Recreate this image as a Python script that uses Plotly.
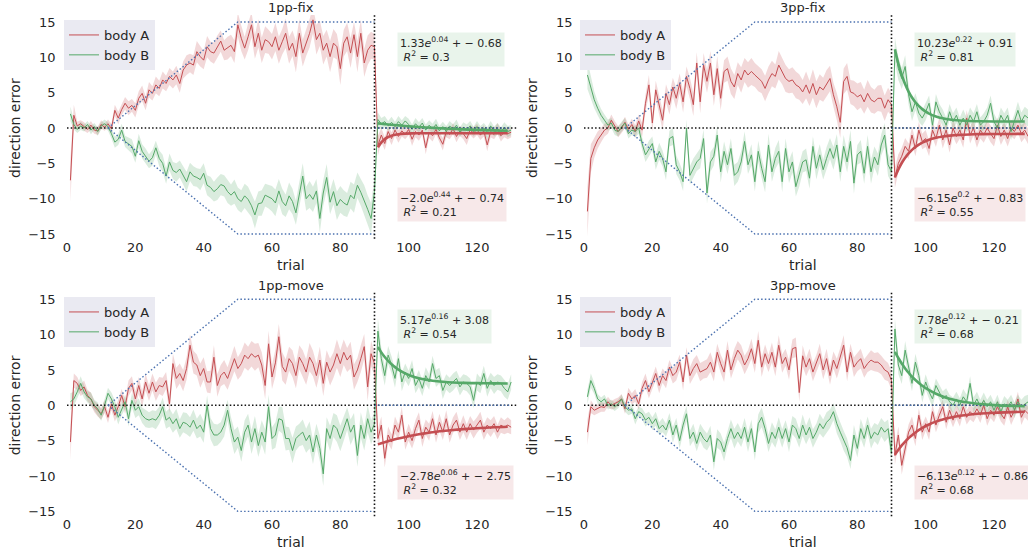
import plotly.graph_objects as go

# ---------------- data ----------------
trials = list(range(1, 131))
fit_trials = [91, 92, 93, 94, 95, 96, 97, 99, 101, 103, 105, 107, 110, 113, 116, 120, 125, 129]
x_ticks = [0, 20, 40, 60, 80, 100, 120]
y_ticks = [-15, -10, -5, 0, 5, 10, 15]
panel_titles = ["1pp-fix", "3pp-fix", "1pp-move", "3pp-move"]
series_names = ["body A", "body B"]

# perturbation profile (dotted blue guide)
ramp_x = [12, 50, 90]
ramp_y = [0, 15, 15]
washout_x = [90, 130]
washout_y = [0, 0]
zero_x = [0, 132]

# fit parameters printed in the boxes
fitA_a = [-2.0, -6.15, -2.78, -6.13]
fitA_b = [0.44, 0.2, 0.06, 0.12]
fitA_c = [-0.74, -0.83, -2.75, -0.86]
r2A = [0.21, 0.55, 0.32, 0.68]
fitB_a = [1.33, 10.23, 5.17, 7.78]
fitB_b = [0.04, 0.22, 0.16, 0.12]
fitB_c = [-0.68, 0.91, 3.08, -0.21]
r2B = [0.3, 0.81, 0.54, 0.68]

# ---- 1pp-fix ----
fix1_A = [-7.4, 1.8, 0.3, 0.6, 0.2, -0.2, 0.4, -0.3, -0.4, 0.5,
          0.1, 0.6, -0.1, 2.5, 1.4, 2.6, 3.5, 2.8, 3.2, 2.5,
          4.2, 4.9, 3.5, 5.4, 4.9, 6.1, 5.6, 6.8, 6.3, 7.3,
          6.8, 7.5, 6.3, 8.2, 8.9, 9.2, 8.9, 10.8, 10.1, 9.6,
          11.5, 10.8, 10.6, 11.5, 12.3, 11.0, 11.3, 11.7, 10.8, 14.6,
          12.7, 11.3, 12.9, 14.6, 11.5, 13.4, 11.0, 12.5, 12.2, 11.5,
          12.9, 11.0, 12.2, 13.4, 11.0, 12.0, 10.1, 13.4, 10.6, 12.0,
          13.4, 15.3, 12.5, 13.4, 11.0, 12.0, 10.1, 12.0, 11.5, 8.4,
          12.0, 12.9, 10.6, 13.2, 10.1, 13.4, 9.2, 11.0, 11.7, 11.5,
          -2.5, -1.0, -2.2, -0.5, -1.5, -0.3, -1.2, -0.4, -0.9, -0.2,
          -1.6, -0.5, -1.0, -0.3, -2.8, -0.6, -1.1, -0.2, -1.4, -2.3,
          -0.5, -0.9, -0.1, -1.2, -0.4, -0.8, -1.5, -0.3, -0.7, -0.2,
          -1.0, -0.4, -2.4, -0.5, -0.9, -0.1, -1.1, -0.6, -0.8, -0.6]
fix1_A_ci = [3.0, 1.5,
             0.6, 0.5, 0.6, 0.5, 0.6, 0.5, 0.6, 0.6, 0.5, 0.6, 0.7,
             0.8, 0.9, 0.8, 0.9, 1.0, 0.9, 1.0, 1.0, 1.1, 1.0, 1.1, 1.0, 1.2, 1.1, 1.2, 1.1, 1.2,
             1.2, 1.3, 1.3, 1.2, 1.4, 1.3, 1.4, 1.5, 1.4, 1.3, 1.5, 1.4, 1.5, 1.6, 1.5, 1.4, 1.6, 1.5, 1.6, 1.7,
             1.8, 1.6, 1.9, 1.8, 1.7, 2.0, 1.8, 1.9, 1.7, 1.8, 2.0, 1.9, 1.8, 2.1, 1.9, 1.8, 2.2, 2.0, 1.9, 1.8,
             2.0, 1.9, 2.1, 1.8, 2.0, 1.9, 2.2, 2.0, 1.8, 2.3, 1.9, 2.0, 2.1, 1.8, 2.2, 1.9, 2.0, 2.1, 1.9, 1.8,
             1.4, 1.0, 0.9, 0.8, 0.9, 0.8, 0.9, 0.8, 0.7, 0.8, 0.9, 0.8, 0.8, 0.7, 0.9, 0.8, 0.8, 0.7, 0.8, 0.9,
             0.8, 0.7, 0.8, 0.8, 0.7, 0.8, 0.9, 0.7, 0.8, 0.8, 0.7, 0.8, 0.9, 0.8, 0.7, 0.8, 0.8, 0.7, 0.8, 0.7]
fix1_B = [2.0, 0.5, -0.2, 0.3, 0.0, 0.5, -0.3, 0.2, -0.5, 0.3,
          0.6, 0.2, -0.8, -2.0, -1.6, -0.3, -1.9, -2.2, -2.6, -4.0,
          -1.8, -3.3, -4.0, -4.7, -4.2, -2.8, -4.3, -5.0, -6.8, -4.8,
          -6.0, -6.3, -5.8, -6.7, -7.6, -6.2, -6.8, -7.0, -7.3, -6.4,
          -8.1, -8.4, -9.0, -8.6, -8.0, -8.2, -9.0, -9.5, -9.0, -10.0,
          -10.4, -9.6, -10.1, -11.0, -12.3, -10.7, -10.6, -9.5, -9.7, -10.0,
          -10.6, -8.9, -10.4, -11.0, -9.6, -10.4, -12.0, -9.4, -6.8, -10.0,
          -9.4, -10.1, -8.9, -12.8, -9.2, -7.0, -10.5, -9.0, -11.0, -10.1,
          -10.6, -10.9, -9.5, -10.0, -8.1, -9.1, -10.2, -11.5, -12.8, -9.0,
          1.2, 0.6, 0.9, 0.3, 0.8, 0.2, 0.9, 0.4, 1.0, 0.5,
          -0.2, 0.6, 0.1, 0.7, -0.3, 0.4, -0.1, 0.5, -0.4, 0.2,
          -0.5, 0.3, -0.2, 0.4, -0.6, 0.1, -0.3, 0.3, -0.5, 0.2,
          -0.4, 0.0, -0.7, 0.3, -0.5, -0.1, -0.6, 0.1, -0.5, -0.3]
fix1_B_ci = [1.0, 0.7,
             0.5, 0.6, 0.5, 0.5, 0.6, 0.5, 0.6, 0.5, 0.6, 0.6, 0.7,
             0.8, 0.8, 0.9, 0.8, 0.9, 1.0, 0.9, 1.0, 1.0, 1.1, 1.0, 1.1, 1.0, 1.1, 1.2, 1.1, 1.2,
             1.2, 1.3, 1.2, 1.3, 1.4, 1.3, 1.4, 1.3, 1.5, 1.4, 1.4, 1.5, 1.4, 1.6, 1.5, 1.5, 1.6, 1.5, 1.7, 1.6,
             1.6, 1.7, 1.8, 1.6, 1.9, 1.7, 1.8, 1.6, 1.7, 1.8, 1.9, 1.7, 1.8, 1.6, 1.9, 1.8, 1.7, 2.0, 1.8, 1.7,
             1.9, 1.8, 1.7, 2.0, 1.8, 1.9, 1.7, 1.8, 2.0, 1.9, 1.8, 1.7, 1.9, 2.0, 1.8, 1.9, 2.1, 2.0, 2.2, 1.9,
             1.0, 0.8, 0.8, 0.7, 0.8, 0.7, 0.8, 0.7, 0.7, 0.8, 0.7, 0.8, 0.7, 0.7, 0.8, 0.7, 0.7, 0.8, 0.7, 0.7,
             0.8, 0.7, 0.7, 0.8, 0.7, 0.7, 0.8, 0.7, 0.7, 0.8, 0.7, 0.7, 0.8, 0.7, 0.7, 0.8, 0.7, 0.7, 0.8, 0.7]
fix1_fitA = [-2.74, -2.03, -1.57, -1.27, -1.08, -0.96, -0.88, -0.80, -0.76, -0.75, -0.74, -0.74, -0.74, -0.74, -0.74, -0.74, -0.74, -0.74]
fix1_fitB = [0.65, 0.60, 0.55, 0.50, 0.45, 0.41, 0.37, 0.29, 0.21, 0.14, 0.08, 0.02, -0.06, -0.13, -0.19, -0.26, -0.34, -0.39]

# ---- 3pp-fix ----
fix3_A = [-11.8, -4.3, -2.8, -1.7, -1.0, -0.3, 0.0, 1.1, 0.3, -0.5,
          0.0, 0.8, -0.2, 0.5, -0.5, 1.0, -0.3, 3.5, 6.1, 0.7,
          5.4, 3.3, 1.1, 4.9, 3.3, 5.8, 4.2, 6.3, 3.7, 7.3,
          5.6, 3.3, 9.2, 3.7, 8.9, 6.6, 9.2, 4.7, 8.4, 4.2,
          8.0, 8.4, 6.6, 5.8, 7.7, 6.8, 8.2, 7.5, 8.0, 7.5,
          7.0, 6.6, 5.6, 6.8, 7.7, 7.3, 8.9, 8.0, 7.0, 6.6,
          6.8, 6.1, 5.8, 5.1, 6.1, 4.9, 6.3, 4.7, 5.8, 5.4,
          6.3, 7.0, 4.7, 3.0, 0.8, 6.6, 7.3, 5.1, 4.9, 4.4,
          4.7, 3.7, 4.9, 4.0, 3.7, 4.2, 4.2, 2.8, 4.0, 3.3,
          -7.0, -5.0, -4.0, -2.6, -3.3, -1.0, -2.9, -0.3, -1.9, -1.5,
          -2.9, -0.3, -1.5, 0.4, -1.7, -0.3, -2.4, 0.0, -1.2, -0.3,
          -1.7, 1.4, -1.0, 0.0, -1.7, -0.3, -1.0, 0.0, -0.8, -1.5,
          0.4, -1.2, -0.3, -1.5, 0.0, -0.5, 0.4, -0.8, -0.3, -1.2]
fix3_A_ci = [3.5, 2.0,
             1.4, 1.2, 1.0, 0.9, 0.8, 0.8, 0.7, 0.8, 0.7, 0.8, 0.7,
             0.8, 0.9, 0.9, 1.0, 1.2, 1.4, 1.2, 1.3, 1.2, 1.4, 1.3, 1.4, 1.3, 1.5, 1.4, 1.5, 1.4,
             1.5, 1.6, 1.5, 1.6, 1.7, 1.6, 1.7, 1.6, 1.8, 1.7, 1.6, 1.7, 1.8, 1.7, 1.6, 1.8, 1.7, 1.8, 1.9, 1.7,
             1.8, 1.7, 1.8, 1.9, 1.8, 1.7, 2.0, 1.8, 1.9, 1.7, 1.8, 1.9, 1.8, 1.7, 1.9, 1.8, 2.0, 1.9, 1.8, 1.7,
             1.9, 1.8, 1.7, 1.9, 2.2, 1.8, 1.9, 1.7, 1.8, 1.9, 1.8, 1.7, 1.9, 1.8, 1.7, 1.8, 1.9, 1.8, 1.7, 1.6,
             1.5, 1.3, 1.2, 1.2, 1.1, 1.2, 1.1, 1.2, 1.1, 1.2, 1.1, 1.1, 1.2, 1.1, 1.2, 1.1, 1.1, 1.2, 1.1, 1.2,
             1.1, 1.1, 1.2, 1.1, 1.1, 1.2, 1.1, 1.1, 1.2, 1.1, 1.1, 1.2, 1.1, 1.1, 1.2, 1.1, 1.1, 1.2, 1.1, 1.1]
fix3_B = [7.5, 5.6, 4.0, 2.8, 1.8, 1.1, 0.4, 0.7, -0.3, -0.5,
          0.2, 0.7, -0.8, -0.3, -0.5, 0.0, -2.2, -3.8, -2.9, -2.2,
          -4.8, -3.3, -4.3, -6.2, -1.5, -1.2, -5.2, -6.2, -7.6, 0.0,
          -6.7, -5.7, -4.8, -4.3, -1.5, -9.2, -4.8, -4.0, -1.0, -6.2,
          -3.3, -5.2, -2.9, -6.7, -6.2, -4.8, -1.9, -5.2, -3.8, -7.6,
          -3.3, -5.7, -7.6, -2.4, -6.2, -4.3, -3.3, -7.6, -2.9, -6.2,
          -4.8, -8.3, -6.7, -4.8, -4.5, -7.1, -2.6, -5.7, -3.8, -5.9,
          -4.3, -2.9, -4.3, -2.4, -6.2, -2.6, -4.8, -1.9, -7.8, -3.8,
          -3.3, -6.4, -2.6, -6.2, -4.1, -5.2, -2.4, -1.0, -5.2, -6.2,
          11.0, 8.4, 7.0, 8.7, 4.7, 2.3, 3.7, 2.1, 1.4, 2.3,
          3.5, 0.4, 3.7, 2.3, 1.4, 0.4, 2.3, 0.9, 1.8, 0.4,
          1.4, 0.4, 1.8, 0.9, 2.3, 0.4, 0.9, 1.8, 3.5, 0.9,
          0.0, 1.8, 0.9, 1.8, -0.5, 0.9, 2.5, 0.9, 1.8, 1.4]
fix3_B_ci = [2.0, 1.5,
             1.2, 1.0, 0.9, 0.8, 0.8, 0.7, 0.7, 0.7, 0.7, 0.7, 0.7,
             0.7, 0.8, 0.8, 0.9, 1.0, 1.1, 1.0, 1.1, 1.2, 1.1, 1.2, 1.1, 1.2, 1.3, 1.2, 1.3, 1.2,
             1.3, 1.4, 1.3, 1.4, 1.3, 1.5, 1.4, 1.3, 1.4, 1.5, 1.4, 1.3, 1.4, 1.5, 1.4, 1.5, 1.4, 1.3, 1.5, 1.4,
             1.5, 1.4, 1.5, 1.6, 1.4, 1.5, 1.6, 1.5, 1.4, 1.6, 1.5, 1.4, 1.6, 1.5, 1.6, 1.5, 1.4, 1.6, 1.5, 1.4,
             1.6, 1.5, 1.6, 1.5, 1.4, 1.6, 1.5, 1.6, 1.5, 1.4, 1.6, 1.5, 1.6, 1.7, 1.5, 1.6, 1.5, 1.7, 1.6, 1.5,
             1.8, 1.6, 1.5, 1.6, 1.4, 1.3, 1.2, 1.2, 1.1, 1.2, 1.1, 1.2, 1.1, 1.1, 1.2, 1.1, 1.1, 1.2, 1.1, 1.1,
             1.2, 1.1, 1.1, 1.2, 1.1, 1.1, 1.2, 1.1, 1.1, 1.2, 1.1, 1.1, 1.2, 1.1, 1.2, 1.1, 1.2, 1.3, 1.2, 1.2]
fix3_fitA = [-6.98, -5.87, -4.95, -4.21, -3.59, -3.09, -2.68, -2.07, -1.66, -1.39, -1.20, -1.08, -0.97, -0.91, -0.87, -0.85, -0.84, -0.83]
fix3_fitB = [11.14, 9.12, 7.50, 6.20, 5.15, 4.31, 3.64, 2.67, 2.04, 1.64, 1.38, 1.21, 1.07, 0.99, 0.95, 0.93, 0.91, 0.91]

# ---- 1pp-move ----
move1_A = [-5.2, 3.5, 3.1, 2.1, 2.6, 1.4, 0.9, -0.2, -0.7, -1.2,
           -0.2, -1.7, 0.2, -1.4, -0.2, 1.4, -0.2, 2.4, 3.1, 0.9,
           2.8, 0.9, 3.3, 1.7, 3.3, 1.9, 2.8, 2.6, 3.5, 0.2,
           5.9, 3.8, 4.5, 3.5, 5.2, 8.5, 6.1, 5.7, 4.2, 5.2,
           3.3, 3.3, 6.8, 2.8, 4.2, 4.7, 3.8, 5.2, 6.6, 5.2,
           5.9, 7.1, 6.6, 7.3, 6.8, 7.1, 5.7, 2.8, 8.7, 4.0,
           6.0, 9.7, 5.5, 4.7, 6.6, 5.9, 4.2, 6.8, 5.9, 4.7,
           6.8, 5.9, 4.2, 6.4, 3.1, 6.1, 4.7, 5.7, 7.3, 5.9,
           7.5, 6.4, 7.1, 4.0, 5.0, 6.6, 8.3, 2.6, 7.3, 5.9,
           -4.7, -2.8, -7.5, -4.2, -5.2, -2.8, -3.8, -1.4, -5.2, -3.8,
           -5.0, -3.3, -2.1, -4.7, -3.1, -3.8, -1.9, -4.2, -2.4, -3.8,
           -1.9, -4.2, -2.8, -2.1, -3.8, -2.6, -3.8, -2.6, -3.5, -2.8,
           -2.1, -3.8, -2.8, -3.3, -2.6, -3.8, -2.8, -3.1, -2.8, -3.1]
move1_A_ci = [2.5, 1.0,
              0.9, 0.8, 0.9, 0.8, 0.9, 0.8, 0.9, 0.8, 0.9, 0.8, 0.9,
              0.9, 1.0, 0.9, 1.0, 1.1, 1.0, 1.1, 1.2, 1.1, 1.2, 1.1, 1.2, 1.3, 1.2, 1.3, 1.2, 1.3,
              1.4, 1.5, 1.4, 1.5, 1.6, 1.5, 1.6, 1.5, 1.7, 1.6, 1.5, 1.6, 1.7, 1.6, 1.5, 1.7, 1.6, 1.7, 1.8, 1.6,
              1.7, 1.8, 1.7, 1.8, 1.9, 1.7, 1.8, 1.9, 1.8, 1.7, 1.9, 1.8, 2.0, 1.8, 1.7, 1.9, 1.8, 1.7, 1.9, 1.8,
              2.0, 1.8, 1.7, 1.9, 1.8, 1.7, 1.9, 1.8, 2.0, 1.9, 1.8, 1.7, 1.9, 1.8, 1.7, 1.9, 1.8, 2.0, 1.8, 1.7,
              1.3, 1.2, 1.3, 1.2, 1.1, 1.2, 1.1, 1.2, 1.1, 1.2, 1.1, 1.2, 1.1, 1.2, 1.1, 1.2, 1.1, 1.1, 1.2, 1.1,
              1.2, 1.1, 1.1, 1.2, 1.1, 1.2, 1.1, 1.1, 1.2, 1.1, 1.2, 1.1, 1.1, 1.2, 1.1, 1.0, 1.1, 1.0, 1.1, 1.0]
move1_B = [0.5, 0.9, 1.9, 3.1, 1.9, 1.2, 0.9, 0.0, -0.5, -1.4,
           0.0, 1.7, 0.9, -0.2, -1.7, -0.5, 0.5, -1.9, 0.7, -0.7,
           -0.2, -1.4, -1.9, -2.1, -1.9, -2.1, -1.4, -0.2, -2.1, -1.7,
           -2.6, -1.9, -3.3, -2.4, -2.6, -3.1, -2.1, -3.3, -2.8, -3.8,
           0.0, -3.3, -4.2, -4.2, -3.8, -2.8, -0.7, -3.3, -5.2, -4.5,
           -6.4, -3.8, -2.8, -5.2, -3.3, -5.7, -3.8, -5.2, -0.2, -4.7,
           -4.2, -1.9, -2.1, -4.7, -4.7, -6.4, -4.7, -4.2, -3.8, -5.0,
           -4.2, -6.6, -4.2, -6.1, -9.7, -3.3, -4.7, -2.8, -3.3, -4.7,
           -3.3, -1.9, -3.8, -2.8, -7.1, -2.8, -4.7, -1.9, -3.8, -2.6,
           10.5, 6.6, 4.2, 7.1, 5.7, 3.8, 6.6, 3.3, 4.7, 3.8,
           5.2, 2.8, 3.8, 2.4, 4.2, 3.3, 5.9, 3.8, 4.2, 2.1,
           3.3, 2.8, 3.3, 3.8, 2.6, 3.3, 3.1, 2.6, 0.7, 3.3,
           2.8, 4.5, 2.4, 3.5, 2.8, 3.3, 3.1, 2.4, 1.9, 3.3]
move1_B_ci = [1.2, 1.0,
              0.9, 1.0, 0.9, 0.8, 0.9, 0.8, 0.9, 0.8, 0.9, 0.8, 0.9,
              0.9, 1.0, 0.9, 1.0, 1.1, 1.0, 1.1, 1.2, 1.1, 1.2, 1.1, 1.2, 1.3, 1.2, 1.3, 1.2, 1.3,
              1.3, 1.4, 1.3, 1.4, 1.5, 1.4, 1.5, 1.4, 1.6, 1.5, 1.4, 1.5, 1.6, 1.5, 1.4, 1.6, 1.5, 1.6, 1.7, 1.5,
              1.6, 1.7, 1.6, 1.7, 1.8, 1.6, 1.7, 1.8, 1.7, 1.6, 1.8, 1.7, 1.9, 1.7, 1.6, 1.8, 1.7, 1.6, 1.8, 1.7,
              1.9, 1.7, 1.6, 1.8, 1.7, 1.6, 1.8, 1.7, 1.9, 1.8, 1.7, 1.6, 1.8, 1.7, 1.6, 1.8, 1.7, 1.9, 1.7, 1.6,
              1.8, 1.5, 1.4, 1.3, 1.2, 1.3, 1.2, 1.3, 1.2, 1.1, 1.2, 1.1, 1.2, 1.1, 1.2, 1.1, 1.1, 1.2, 1.1, 1.2,
              1.1, 1.1, 1.2, 1.1, 1.2, 1.1, 1.1, 1.2, 1.1, 1.2, 1.1, 1.1, 1.2, 1.1, 1.2, 1.1, 1.1, 1.2, 1.1, 1.1]
move1_fitA = [-5.53, -5.37, -5.22, -5.07, -4.94, -4.81, -4.69, -4.47, -4.28, -4.10, -3.95, -3.81, -3.64, -3.49, -3.37, -3.24, -3.11, -3.03]
move1_fitB = [8.25, 7.49, 6.83, 6.28, 5.81, 5.40, 5.06, 4.52, 4.12, 3.84, 3.63, 3.48, 3.33, 3.23, 3.17, 3.13, 3.10, 3.09]

# ---- 3pp-move ----
move3_A = [-3.8, -0.2, -0.7, -0.5, -0.2, -0.3, 0.5, 0.0, 0.2, 0.5,
           0.9, -0.5, 1.7, 0.9, 1.4, 0.2, 2.4, 3.5, 1.9, 3.3,
           4.5, 2.8, 4.2, 3.5, 5.4, 4.2, 4.7, 6.1, 3.3, 7.1,
           4.2, 5.2, 5.9, 4.7, 5.0, 5.2, 6.1, 4.7, 7.5, 5.9,
           4.7, 7.8, 5.0, 6.6, 7.8, 7.1, 5.7, 6.6, 8.0, 5.9,
           9.2, 5.4, 7.3, 5.9, 7.5, 5.4, 8.5, 5.9, 6.8, 5.0,
           8.0, 8.2, 1.8, 7.0, 5.4, 6.6, 4.7, 5.9, 7.3, 5.0,
           6.6, 4.2, 6.4, 5.2, 6.8, 8.5, 4.7, 7.5, 5.4, 6.1,
           6.6, 5.2, 5.9, 6.4, 6.1, 6.1, 5.7, 5.0, 4.7, 3.5,
           -7.1, -4.2, -8.5, -6.1, -3.8, -2.8, -4.7, -1.4, -3.8, -2.6,
           -3.8, -0.9, -2.8, -1.4, -0.2, -2.4, -0.7, -2.1, -0.9, -1.9,
           -0.2, -1.7, -0.9, -1.4, -0.5, -1.4, 0.0, -1.9, -0.7, -1.4,
           -0.2, -1.2, -1.9, -0.2, -1.7, -0.7, 0.9, -1.7, -0.7, -1.2]
move3_A_ci = [1.8, 0.9,
              0.7, 0.6, 0.7, 0.6, 0.7, 0.6, 0.7, 0.6, 0.7, 0.7, 0.8,
              0.8, 0.9, 0.8, 0.9, 1.0, 0.9, 1.0, 1.0, 1.1, 1.0, 1.1, 1.0, 1.1, 1.2, 1.1, 1.2, 1.1,
              1.2, 1.3, 1.2, 1.3, 1.2, 1.3, 1.4, 1.3, 1.2, 1.3, 1.4, 1.3, 1.2, 1.4, 1.3, 1.4, 1.3, 1.2, 1.4, 1.3,
              1.3, 1.4, 1.3, 1.2, 1.4, 1.3, 1.4, 1.3, 1.2, 1.4, 1.3, 1.4, 1.3, 1.5, 1.3, 1.4, 1.3, 1.2, 1.4, 1.3,
              1.4, 1.3, 1.2, 1.4, 1.3, 1.4, 1.3, 1.2, 1.4, 1.3, 1.4, 1.3, 1.2, 1.4, 1.3, 1.4, 1.3, 1.4, 1.3, 1.3,
              1.3, 1.2, 1.3, 1.2, 1.1, 1.2, 1.1, 1.0, 1.1, 1.0, 1.1, 1.0, 1.0, 1.1, 1.0, 1.0, 1.1, 1.0, 1.0, 1.1,
              1.0, 1.0, 1.1, 1.0, 1.0, 1.1, 1.0, 1.0, 1.1, 1.0, 1.0, 1.1, 1.0, 1.0, 1.1, 1.0, 1.0, 1.1, 1.0, 1.0]
move3_B = [1.2, 3.5, 2.4, 0.9, 0.5, 0.9, 0.0, 0.2, -0.2, 0.2,
           0.9, -0.2, -0.7, -0.5, -1.9, -0.9, -1.2, -2.1, -1.7, -2.6,
           -1.9, -3.3, -2.8, -3.5, -2.1, -4.2, -2.8, -5.0, -2.8, -1.2,
           -4.7, -3.8, -5.4, -3.8, -4.7, -5.2, -4.2, -8.0, -4.7, -5.2,
           -6.6, -4.7, -3.3, -4.7, -3.8, -4.7, -3.1, -5.2, -3.3, -6.6,
           -2.6, -1.7, -3.3, -5.4, -3.8, -4.7, -3.1, -4.7, -3.3, -5.2,
           -2.8, -3.3, -4.7, -2.8, -4.2, -3.1, -4.7, -3.8, -2.6, -3.3,
           -2.4, -1.9, -0.9, -2.6, -3.8, -5.0, -6.0, -7.8, -4.2, -6.1,
           -3.3, -4.7, -2.8, -4.7, -3.8, -4.2, -3.1, -3.8, -3.3, -6.8,
           10.8, 5.7, 4.2, 7.8, 5.2, 3.1, 6.1, 4.2, 1.4, 3.3,
           1.9, 0.9, 2.8, 1.9, 0.9, 1.4, 0.5, 0.0, 0.9, 0.0,
           1.2, 0.5, 3.1, 0.0, 0.9, -0.2, 0.7, -0.2, 0.5, -0.7,
           0.5, -0.9, 0.2, -0.2, 0.5, -0.7, 0.5, -0.2, 0.2, 0.5]
move3_B_ci = [1.0, 1.0,
              0.8, 0.7, 0.6, 0.6, 0.6, 0.6, 0.6, 0.6, 0.6, 0.7, 0.7,
              0.7, 0.8, 0.7, 0.8, 0.9, 0.8, 0.9, 1.0, 0.9, 1.0, 0.9, 1.0, 1.1, 1.0, 1.1, 1.2, 1.1,
              1.1, 1.2, 1.1, 1.2, 1.3, 1.2, 1.3, 1.2, 1.3, 1.2, 1.3, 1.2, 1.3, 1.4, 1.3, 1.2, 1.3, 1.4, 1.3, 1.2,
              1.3, 1.4, 1.3, 1.2, 1.4, 1.3, 1.4, 1.3, 1.2, 1.4, 1.3, 1.4, 1.3, 1.5, 1.3, 1.4, 1.3, 1.2, 1.4, 1.3,
              1.4, 1.3, 1.2, 1.4, 1.3, 1.4, 1.3, 1.2, 1.4, 1.3, 1.4, 1.3, 1.2, 1.4, 1.3, 1.4, 1.3, 1.4, 1.3, 1.3,
              1.5, 1.3, 1.2, 1.3, 1.2, 1.1, 1.2, 1.1, 1.0, 1.1, 1.0, 1.1, 1.0, 1.0, 1.1, 1.0, 1.0, 1.1, 1.0, 1.0,
              1.1, 1.0, 1.0, 1.1, 1.0, 1.0, 1.1, 1.0, 1.0, 1.1, 1.0, 1.0, 1.1, 1.0, 1.0, 1.1, 1.0, 1.0, 1.1, 1.0]
move3_fitA = [-6.99, -6.30, -5.68, -5.14, -4.65, -4.23, -3.85, -3.21, -2.71, -2.31, -2.00, -1.76, -1.49, -1.30, -1.17, -1.05, -0.96, -0.92]
move3_fitB = [7.57, 6.69, 5.91, 5.22, 4.60, 4.06, 3.58, 2.77, 2.13, 1.63, 1.24, 0.93, 0.58, 0.35, 0.18, 0.03, -0.08, -0.13]

panels_A = [fix1_A, fix3_A, move1_A, move3_A]
panels_A_ci = [fix1_A_ci, fix3_A_ci, move1_A_ci, move3_A_ci]
panels_B = [fix1_B, fix3_B, move1_B, move3_B]
panels_B_ci = [fix1_B_ci, fix3_B_ci, move1_B_ci, move3_B_ci]
panels_fitA = [fix1_fitA, fix3_fitA, move1_fitA, move3_fitA]
panels_fitB = [fix1_fitB, fix3_fitB, move1_fitB, move3_fitB]

# ---------------- style ----------------
W, H = 1028, 554
FONT = "DejaVu Sans"
TXT = "#262626"
RED = "#C44E52"
GREEN = "#55A868"
BLUE = "#4C72B0"
RED_FILL = "rgba(196,78,82,0.22)"
GREEN_FILL = "rgba(85,168,104,0.22)"
RED_BOX = "rgba(196,78,82,0.13)"
GREEN_BOX = "rgba(85,168,104,0.13)"
DOT = "1.5px,2.2px"


def fx(px):
    return px / W


def fy(py):
    return 1 - py / H


x_left_dom = [fx(60.17), fx(521.4)]
x_right_dom = [fx(577.17), 1.0]
x_left_rng = [-2, 133]
x_right_rng = [-2, 129.95]
y_top_dom = [fy(241.1), fy(14.9)]
y_bot_dom = [fy(518.4), fy(292.2)]
y_rng = [-16, 16]

axes_cfg = [
    (x_left_dom, x_left_rng, y_top_dom, 14.9, 241.1),
    (x_right_dom, x_right_rng, y_top_dom, 14.9, 241.1),
    (x_left_dom, x_left_rng, y_bot_dom, 292.2, 518.4),
    (x_right_dom, x_right_rng, y_bot_dom, 292.2, 518.4),
]
x_centres = [290.8, 802.6, 290.8, 802.6]


def minus(s):
    return s.replace("-", "\u2212")


def fit_label(a, b, c, r2):
    sign = "+ " + str(c) if c >= 0 else "+ \u2212 " + str(abs(c))
    return (minus(str(a)) + "<i>e</i><sup>" + str(b) + "</sup> " + sign +
            "<br> <i>R</i><sup>2</sup> = " + str(r2))


fig = go.Figure()
layout = dict(
    width=W, height=H, margin=dict(l=0, r=0, t=0, b=0),
    paper_bgcolor="white", plot_bgcolor="white",
    font=dict(family=FONT, size=13, color=TXT),
    showlegend=True,
)
annotations = []
shapes = []

for i in range(4):
    xa = "x" if i == 0 else f"x{i+1}"
    ya = "y" if i == 0 else f"y{i+1}"
    xkey = "xaxis" if i == 0 else f"xaxis{i+1}"
    ykey = "yaxis" if i == 0 else f"yaxis{i+1}"
    lg = "legend" if i == 0 else f"legend{i+1}"
    xdom, xrng, ydom, top_px, bot_px = axes_cfg[i]

    layout[xkey] = dict(domain=xdom, range=xrng, anchor=ya, tickvals=x_ticks,
                        showgrid=False, zeroline=False, showline=False,
                        ticks="", ticklabelstandoff=-3,
                        tickfont=dict(size=13, color=TXT, family=FONT))
    layout[ykey] = dict(domain=ydom, range=y_rng, anchor=xa, tickvals=y_ticks,
                        showgrid=False, zeroline=False, showline=False,
                        ticks="outside", ticklen=1, tickcolor="rgba(0,0,0,0)",
                        tickfont=dict(size=13, color=TXT, family=FONT))

    A, Aci = panels_A[i], panels_A_ci[i]
    B, Bci = panels_B[i], panels_B_ci[i]
    # confidence bands
    for vals, ci, fillc in ((A, Aci, RED_FILL), (B, Bci, GREEN_FILL)):
        up = [v + c for v, c in zip(vals, ci)]
        lo = [v - c for v, c in zip(vals, ci)]
        fig.add_trace(go.Scatter(x=trials, y=up, mode="lines", line=dict(width=0),
                                 hoverinfo="skip", showlegend=False, xaxis=xa, yaxis=ya))
        fig.add_trace(go.Scatter(x=trials, y=lo, mode="lines", line=dict(width=0),
                                 fill="tonexty", fillcolor=fillc, hoverinfo="skip",
                                 showlegend=False, xaxis=xa, yaxis=ya))
    # mean lines
    fig.add_trace(go.Scatter(x=trials, y=A, mode="lines", name=series_names[0],
                             line=dict(color=RED, width=1), legend=lg, xaxis=xa, yaxis=ya))
    fig.add_trace(go.Scatter(x=trials, y=B, mode="lines", name=series_names[1],
                             line=dict(color=GREEN, width=1), legend=lg, xaxis=xa, yaxis=ya))
    # guides
    fig.add_trace(go.Scatter(x=zero_x, y=[0, 0], mode="lines", showlegend=False,
                             line=dict(color="#111111", width=1.6, dash=DOT),
                             hoverinfo="skip", xaxis=xa, yaxis=ya))
    fig.add_trace(go.Scatter(x=ramp_x, y=ramp_y, mode="lines", showlegend=False,
                             line=dict(color=BLUE, width=1.4, dash=DOT),
                             hoverinfo="skip", xaxis=xa, yaxis=ya))
    fig.add_trace(go.Scatter(x=ramp_x, y=[-v for v in ramp_y], mode="lines", showlegend=False,
                             line=dict(color=BLUE, width=1.4, dash=DOT),
                             hoverinfo="skip", xaxis=xa, yaxis=ya))
    fig.add_trace(go.Scatter(x=washout_x, y=washout_y, mode="lines", showlegend=False,
                             line=dict(color=BLUE, width=1.4, dash=DOT),
                             hoverinfo="skip", xaxis=xa, yaxis=ya))
    shapes.append(dict(type="line", xref=xa, yref=f"{ya} domain", x0=90, x1=90, y0=0.01, y1=1.0,
                       line=dict(color="#111111", width=1.6, dash=DOT)))
    # fitted curves
    fig.add_trace(go.Scatter(x=fit_trials, y=panels_fitA[i], mode="lines", showlegend=False,
                             line=dict(color=RED, width=2.6, shape="spline"),
                             hoverinfo="skip", xaxis=xa, yaxis=ya))
    fig.add_trace(go.Scatter(x=fit_trials, y=panels_fitB[i], mode="lines", showlegend=False,
                             line=dict(color=GREEN, width=2.6, shape="spline"),
                             hoverinfo="skip", xaxis=xa, yaxis=ya))

    # fit boxes
    annotations.append(dict(xref=xa, yref=ya, x=96.6, y=13.6, xanchor="left", yanchor="top",
                            text=fit_label(fitB_a[i], fitB_b[i], fitB_c[i], r2B[i]),
                            showarrow=False, align="left", bgcolor=GREEN_BOX, borderpad=2,
                            font=dict(size=11, color=TXT, family=FONT)))
    annotations.append(dict(xref=xa, yref=ya, x=96.6, y=-8.4, xanchor="left", yanchor="top",
                            text=fit_label(fitA_a[i], fitA_b[i], fitA_c[i], r2A[i]),
                            showarrow=False, align="left", bgcolor=RED_BOX, borderpad=2,
                            font=dict(size=11, color=TXT, family=FONT)))

    # titles and axis labels
    xc = fx(x_centres[i])
    annotations.append(dict(xref="paper", yref="paper", x=xc, y=fy(top_px - 7),
                            text=panel_titles[i], showarrow=False, xanchor="center",
                            yanchor="middle", font=dict(size=13, color=TXT, family=FONT)))
    annotations.append(dict(xref="paper", yref="paper", x=xc, y=fy(bot_px + 24),
                            text="trial", showarrow=False, xanchor="center",
                            yanchor="middle", font=dict(size=14, color=TXT, family=FONT)))
    ylab_x = 15 if i % 2 == 0 else 532
    annotations.append(dict(xref="paper", yref="paper", x=fx(ylab_x),
                            y=fy((top_px + bot_px) / 2), text="direction error",
                            textangle=-90, showarrow=False, xanchor="center", yanchor="middle",
                            font=dict(size=14, color=TXT, family=FONT)))

    # legend
    lx = 64 if i % 2 == 0 else 580
    ly = 20 if i < 2 else 297
    layout[lg] = dict(x=fx(lx), y=fy(ly), xanchor="left", yanchor="top",
                      bgcolor="#EAEAF2", borderwidth=0, itemwidth=30, traceorder="normal",
                      font=dict(size=13, color=TXT, family=FONT), tracegroupgap=0)

layout["annotations"] = annotations
layout["shapes"] = shapes
fig.update_layout(**layout)
# remove the browser's default 8px page margin so the figure fills the window
fig.write_html("out.html", config={"displayModeBar": False},
               post_script="document.body.style.margin='0px';")
